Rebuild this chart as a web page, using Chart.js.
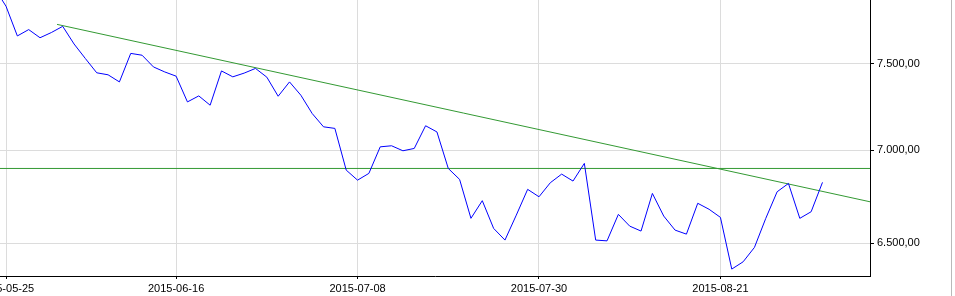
<!DOCTYPE html>
<html lang="de">
<head>
    <meta charset="UTF-8">
    <title>Kursverlauf</title>
    <script src="https://cdn.jsdelivr.net/npm/chart.js@4.4.0/dist/chart.umd.min.js"></script>
    <style>
        body {
            margin: 0;
            background: #fff;
        }

        .frame {
            width: 951px;
            height: 296px;
            border-right: 1px solid #b9b9b9;
        }
    </style>
</head>
<body>
    <div class="frame">
        <canvas id="chart" width="951" height="296"></canvas>
    </div>

    <script>
        // Handelstage, gezählt ab dem ersten beschrifteten Tag (2015-05-25 = 0)
        const firstIndex = -1;
        const closeValues = [
            7966, 7853, 7669, 7708, 7658, 7690, 7728, 7620, 7532, 7447,
            7435, 7393, 7563, 7552, 7482, 7452, 7427, 7276, 7311, 7257,
            7458, 7423, 7445, 7473, 7421, 7309, 7393, 7315, 7209, 7133,
            7124, 6891, 6836, 6873, 7020, 7026, 6998, 7011, 7139, 7104,
            6900, 6840, 6631, 6725, 6578, 6517, 6648, 6786, 6746, 6822,
            6869, 6831, 6928, 6517, 6513, 6652, 6590, 6564, 6764, 6643,
            6569, 6548, 6711, 6679, 6636, 6368, 6405, 6479, 6631, 6773,
            6818, 6631, 6666, 6824
        ];

        const tickIndex = [0, 15, 31, 47, 63];
        const tickLabels = ['2015-05-25', '2015-06-16', '2015-07-08', '2015-07-30', '2015-08-21'];
        const yTicks = [6500, 7000, 7500];

        // Trendlinie und Unterstützung
        const trendX = [4.5, 76.2];
        const trendY = [7740, 6719];
        const supportLevel = 6900;

        function formatDe(v) {
            const parts = v.toFixed(2).split('.');
            return parts[0].replace(/\B(?=(\d{3})+(?!\d))/g, '.') + ',' + parts[1];
        }

        const font = { family: '"Liberation Sans", Arial, sans-serif', size: 11 };

        new Chart(document.getElementById('chart'), {
            type: 'line',
            data: {
                datasets: [{
                    data: closeValues.map((v, i) => ({ x: i + firstIndex, y: v })),
                    borderColor: '#0000ff',
                    borderWidth: 1,
                    pointRadius: 0,
                    tension: 0
                }, {
                    data: trendX.map((x, i) => ({ x: x, y: trendY[i] })),
                    borderColor: '#339933',
                    borderWidth: 1,
                    pointRadius: 0
                }, {
                    data: [{ x: -1, y: supportLevel }, { x: 78, y: supportLevel }],
                    borderColor: '#339933',
                    borderWidth: 1,
                    pointRadius: 0
                }]
            },
            options: {
                responsive: false,
                animation: false,
                events: [],
                layout: { padding: 0 },
                plugins: {
                    legend: { display: false },
                    tooltip: { enabled: false }
                },
                scales: {
                    x: {
                        type: 'linear',
                        min: -0.53,
                        max: 76.19,
                        grid: { color: '#dcdcdc', tickColor: '#000', tickLength: 3 },
                        border: { color: '#000' },
                        ticks: {
                            color: '#000',
                            font: font,
                            padding: 3,
                            maxRotation: 0,
                            autoSkip: false,
                            callback: (value, index) => tickLabels[index]
                        },
                        afterBuildTicks: s => { s.ticks = tickIndex.map(v => ({ value: v })); },
                        afterFit: s => { s.height = 20; s.paddingLeft = 0; s.paddingRight = 0; }
                    },
                    y: {
                        type: 'logarithmic',
                        position: 'right',
                        min: 6333,
                        max: 7892,
                        grid: { color: '#dcdcdc', tickColor: '#000', tickLength: 4 },
                        border: { color: '#000' },
                        ticks: {
                            color: '#000',
                            font: font,
                            padding: 3,
                            callback: v => formatDe(v)
                        },
                        afterBuildTicks: s => { s.ticks = yTicks.map(v => ({ value: v })); },
                        afterFit: s => { s.width = 81; s.paddingTop = 0; s.paddingBottom = 0; }
                    }
                }
            }
        });
    </script>
</body>
</html>
